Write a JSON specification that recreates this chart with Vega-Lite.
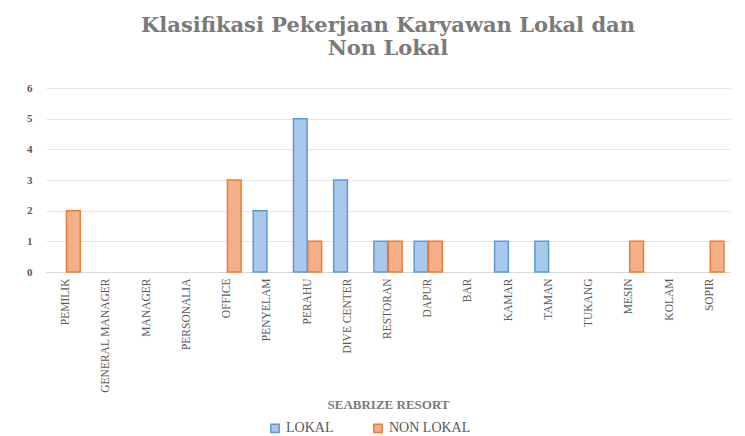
{
  "$schema": "https://vega.github.io/schema/vega-lite/v6.json",
  "width": 684,
  "height": 184,
  "padding": {"left": 26, "top": 15, "right": 10, "bottom": 0},
  "background": "white",
  "title": {
    "text": ["Klasifikasi Pekerjaan Karyawan Lokal dan", "Non Lokal"],
    "font": "DejaVu Serif",
    "fontSize": 21,
    "fontWeight": "bold",
    "color": "#7a7a7a",
    "lineHeight": 23,
    "anchor": "middle",
    "offset": 23
  },
  "data": {
    "values": [
      {"pekerjaan": "PEMILIK", "status": "NON LOKAL", "jumlah": 2},
      {"pekerjaan": "OFFICE", "status": "NON LOKAL", "jumlah": 3},
      {"pekerjaan": "PENYELAM", "status": "LOKAL", "jumlah": 2},
      {"pekerjaan": "PERAHU", "status": "LOKAL", "jumlah": 5},
      {"pekerjaan": "PERAHU", "status": "NON LOKAL", "jumlah": 1},
      {"pekerjaan": "DIVE CENTER", "status": "LOKAL", "jumlah": 3},
      {"pekerjaan": "RESTORAN", "status": "LOKAL", "jumlah": 1},
      {"pekerjaan": "RESTORAN", "status": "NON LOKAL", "jumlah": 1},
      {"pekerjaan": "DAPUR", "status": "LOKAL", "jumlah": 1},
      {"pekerjaan": "DAPUR", "status": "NON LOKAL", "jumlah": 1},
      {"pekerjaan": "KAMAR", "status": "LOKAL", "jumlah": 1},
      {"pekerjaan": "TAMAN", "status": "LOKAL", "jumlah": 1},
      {"pekerjaan": "MESIN", "status": "NON LOKAL", "jumlah": 1},
      {"pekerjaan": "SOPIR", "status": "NON LOKAL", "jumlah": 1}
    ]
  },
  "mark": {"type": "bar", "strokeWidth": 1.5},
  "encoding": {
    "x": {
      "field": "pekerjaan",
      "type": "nominal",
      "scale": {
        "domain": ["PEMILIK", "GENERAL MANAGER", "MANAGER", "PERSONALIA", "OFFICE", "PENYELAM", "PERAHU", "DIVE CENTER", "RESTORAN", "DAPUR", "BAR", "KAMAR", "TAMAN", "TUKANG", "MESIN", "KOLAM", "SOPIR"],
        "paddingInner": 0.3,
        "paddingOuter": 0.15
      },
      "axis": {
        "title": "SEABRIZE RESORT",
        "titleFont": "Liberation Serif",
        "titleFontSize": 13,
        "titleFontWeight": "bold",
        "titleColor": "#7a7a7a",
        "titlePadding": 6,
        "labelAngle": -90,
        "labelFont": "Liberation Serif",
        "labelFontSize": 11.5,
        "labelColor": "#595959",
        "labelPadding": 6,
        "ticks": false,
        "domainColor": "#d9d9d9",
        "grid": false
      }
    },
    "xOffset": {
      "field": "status",
      "type": "nominal",
      "scale": {"domain": ["LOKAL", "NON LOKAL"], "paddingInner": 0.05}
    },
    "y": {
      "field": "jumlah",
      "type": "quantitative",
      "scale": {"domain": [0, 6], "nice": false},
      "axis": {
        "title": null,
        "values": [0, 1, 2, 3, 4, 5, 6],
        "labelOverlap": false,
        "domain": false,
        "ticks": false,
        "gridColor": "#e6e6e6",
        "labelFont": "Liberation Serif",
        "labelFontSize": 11,
        "labelFontWeight": "bold",
        "labelColor": "#595959",
        "labelPadding": 14
      }
    },
    "color": {
      "field": "status",
      "type": "nominal",
      "scale": {"domain": ["LOKAL", "NON LOKAL"], "range": ["#a8c8ec", "#f5b08a"]},
      "legend": {
        "title": null,
        "orient": "none",
        "legendX": 222,
        "legendY": 333,
        "direction": "horizontal",
        "symbolType": "square",
        "symbolSize": 70,
        "symbolStrokeWidth": 1.5,
        "labelFont": "Liberation Serif",
        "labelFontSize": 14,
        "labelColor": "#595959",
        "columnPadding": 36
      }
    },
    "stroke": {
      "field": "status",
      "type": "nominal",
      "scale": {"domain": ["LOKAL", "NON LOKAL"], "range": ["#5b9bd5", "#ed7d31"]},
      "legend": null
    }
  },
  "config": {"view": {"stroke": null}}
}
